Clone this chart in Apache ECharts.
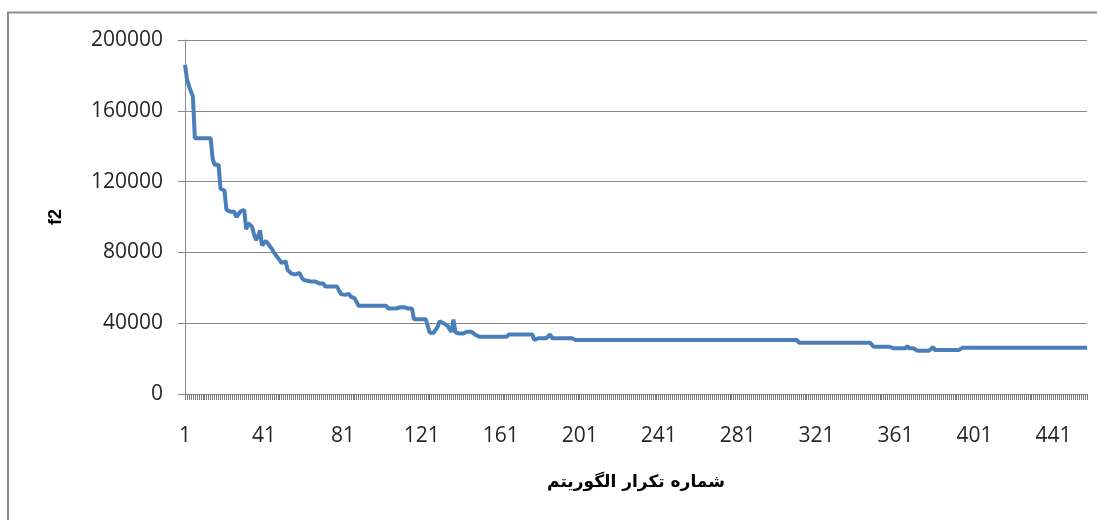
<!DOCTYPE html>
<html>
<head>
<meta charset="utf-8">
<script src="https://cdn.jsdelivr.net/npm/echarts@6/dist/echarts.min.js"></script>
<style>
  html, body { margin: 0; padding: 0; background: #fff; }
  #chart { width: 1097px; height: 520px; }
</style>
</head>
<body>
<div id="chart"></div>
<script>
// f2 per iteration as [value, how many iterations it holds]
const f2Runs = [
  [186000, 1], [178000, 1], [174000, 1], [171000, 1], [168000, 1],
  [144500, 9], [133000, 1], [129500, 3], [116000, 1], [115000, 2],
  [104000, 1], [103000, 4], [100000, 1], [101000, 1], [103000, 1],
  [104000, 2], [93000, 1], [96500, 1], [95500, 1], [94500, 1],
  [90000, 1], [87000, 1], [89000, 1], [92500, 1], [84000, 1],
  [85000, 1], [86500, 1], [85000, 1], [84000, 1], [82000, 1],
  [80000, 1], [79000, 1], [77000, 1], [75500, 1], [74000, 1],
  [74500, 1], [75000, 1], [70000, 1], [69000, 1], [68000, 1],
  [67500, 2], [68000, 1], [68500, 1], [66000, 1], [64500, 1],
  [64000, 2], [63500, 4], [62500, 4], [60700, 7], [58500, 1],
  [56500, 1], [56000, 2], [57000, 1], [56500, 1], [55000, 1],
  [54000, 3], [49800, 15], [48300, 6], [49000, 3], [48300, 4],
  [42200, 8], [34600, 4], [38000, 1], [41000, 1], [42000, 1],
  [40000, 1], [39000, 1], [38500, 1], [38000, 1], [35000, 1],
  [42000, 1], [34800, 1], [34200, 5], [35200, 4], [33500, 1],
  [32400, 16], [33600, 13], [30500, 1], [31500, 7], [33700, 1],
  [31500, 11], [30500, 114], [29000, 38], [26700, 9], [25800, 8],
  [27000, 1], [25800, 4], [24500, 8], [26500, 1], [24800, 14],
  [26200, 64]
];

const yTicks = [0, 40000, 80000, 120000, 160000, 200000];
const xLabelStep = 40;
const xTitle = 'شماره تکرار الگوریتم';
const yTitle = 'f2';

const f2 = [];
f2Runs.forEach(([v, n]) => { for (let k = 0; k < n; k++) f2.push(v); });
const iterations = f2.map((_, i) => String(i + 1));

const chart = echarts.init(document.getElementById('chart'), null, { renderer: 'canvas' });

const axisGray = '#878787';
const textColor = '#262626';

chart.setOption({
  backgroundColor: '#ffffff',
  animation: false,
  grid: { left: 185, right: 10, top: 40, bottom: 126, containLabel: false },
  xAxis: {
    type: 'category',
    data: iterations,
    boundaryGap: false,
    name: xTitle,
    nameLocation: 'middle',
    nameGap: 80,
    nameTextStyle: { fontFamily: 'DejaVu Sans', fontWeight: 'bold', fontSize: 17, color: '#000' },
    axisLine: { lineStyle: { color: axisGray, width: 1 } },
    axisTick: { show: true, interval: 0, length: 6, lineStyle: { color: '#7a7a7a', width: 1 } },
    axisLabel: {
      interval: xLabelStep - 1,
      margin: 32,
      color: textColor,
      fontFamily: 'Open Sans',
      fontSize: 21
    },
    splitLine: { show: false }
  },
  yAxis: {
    type: 'value',
    min: yTicks[0],
    max: yTicks[yTicks.length - 1],
    interval: yTicks[1] - yTicks[0],
    name: yTitle,
    nameLocation: 'middle',
    nameRotate: 90,
    nameGap: 120,
    nameTextStyle: { fontFamily: 'Liberation Sans', fontWeight: 'bold', fontSize: 18, color: '#000' },
    axisLine: { show: true, lineStyle: { color: axisGray, width: 1 } },
    axisTick: { show: true, length: 7, lineStyle: { color: axisGray, width: 1 } },
    axisLabel: {
      margin: 22,
      color: textColor,
      fontFamily: 'Open Sans',
      fontSize: 21,
      formatter: (v) => String(v)
    },
    splitLine: { show: true, lineStyle: { color: axisGray, width: 1 } }
  },
  graphic: [
    {
      type: 'rect',
      silent: true,
      shape: { x: 8, y: 12.5, width: 1200, height: 600 },
      style: { fill: 'none', stroke: '#8c8c8c', lineWidth: 2 }
    }
  ],
  series: [
    {
      name: 'f2',
      type: 'line',
      data: f2,
      showSymbol: false,
      smooth: false,
      lineStyle: { color: '#4a7ebb', width: 4 },
      itemStyle: { color: '#4a7ebb' }
    }
  ]
});
</script>
</body>
</html>
